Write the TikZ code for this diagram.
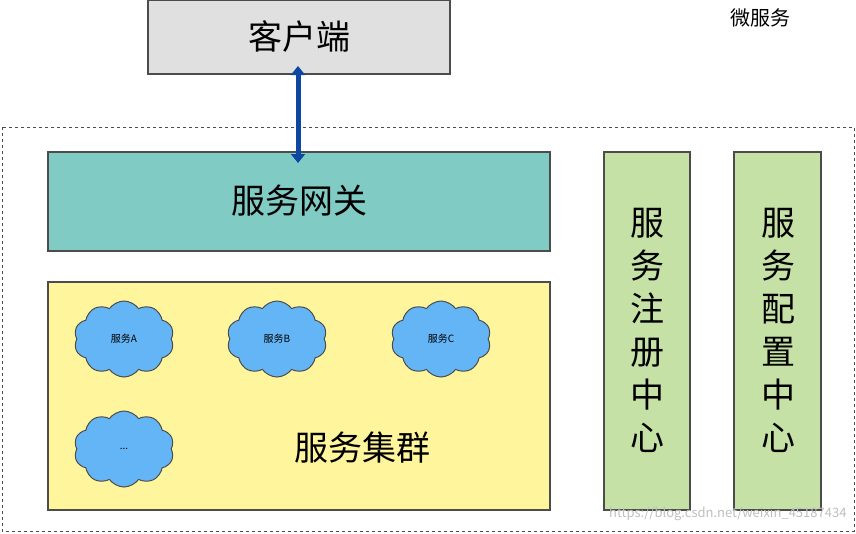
\documentclass[tikz,border=0pt]{standalone}
\usepackage{fontspec}
\setmainfont{Noto Sans CJK SC}
\usetikzlibrary{shapes.symbols,arrows.meta}
\definecolor{cl}{HTML}{E0E0E0}
\definecolor{gw}{HTML}{80CBC4}
\definecolor{yl}{HTML}{FFF59D}
\definecolor{gr}{HTML}{C5E1A5}
\definecolor{cb}{HTML}{64B5F6}
\definecolor{ar}{HTML}{0D47A1}
\begin{document}
\begin{tikzpicture}[x=1pt,y=-1pt,
  box/.style={draw=black!70,line width=1.2pt},
  cl/.style={cloud,cloud puffs=10,cloud puff arc=110,aspect=1.4,draw=black!70,line width=1pt,fill=cb,minimum width=100pt,minimum height=76pt,inner sep=0pt,font=\fontsize{10}{12}\selectfont},
  big/.style={font=\fontsize{34}{40}\selectfont}]
\useasboundingbox (0,0) rectangle (856,533);
\fill[white] (0,0) rectangle (856,533);
\draw[box,fill=cl] (148,0) rectangle (450,74);
\node[big] (client) at (299,37) {客户端};
\node[font=\fontsize{20}{24}\selectfont] (ms) at (760,18) {微服务};
\draw[dashed,black!70,line width=1pt] (2,127) rectangle (854,531);
\draw[box,fill=gw] (48,152) rectangle (550,251);
\node[big] (gw) at (299,201) {服务网关};
\draw[box,fill=yl] (48,282) rectangle (550,510);
\node[cl] (a) at (124,339) {服务A};
\node[cl] (b) at (277,339) {服务B};
\node[cl] (c) at (441,339) {服务C};
\node[cl] (d) at (124,449) {...};
\node[big] (cluster) at (362,448) {服务集群};
\draw[box,fill=gr] (604,152) rectangle (690,510);
\draw[box,fill=gr] (734,152) rectangle (821,510);
\node[big,align=center,font=\fontsize{34}{43}\selectfont] (reg) at (647,330) {服\\务\\注\\册\\中\\心};
\node[big,align=center,font=\fontsize{34}{43}\selectfont] (cfg) at (778,330) {服\\务\\配\\置\\中\\心};
\coordinate (p1) at (298,66);
\coordinate (p2) at (298,163);
\draw[ar,line width=5pt,{Triangle[length=9pt,width=14pt]}-{Triangle[length=9pt,width=14pt]}] (p1) -- (p2);
\node[black!25,font=\fontsize{13}{15}\selectfont,anchor=east] (wm) at (850,514) {https://blog.csdn.net/weixin\_45187434};
\end{tikzpicture}
\end{document}
